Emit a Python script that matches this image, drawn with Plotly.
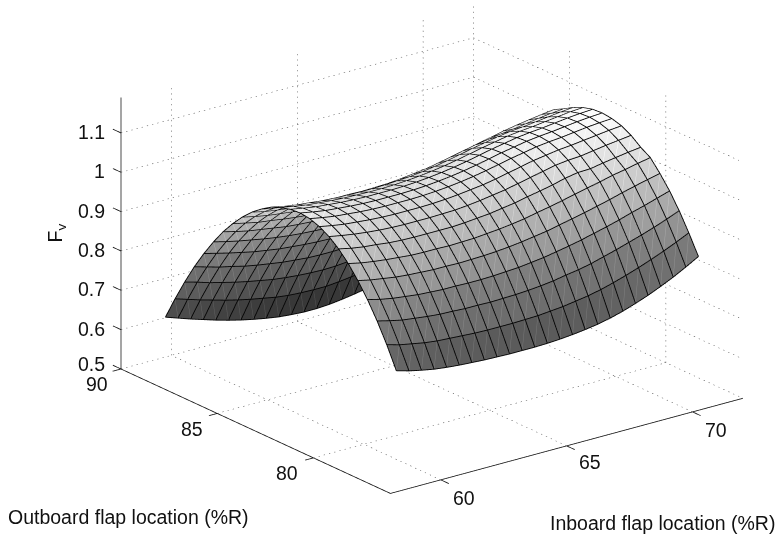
import plotly.graph_objects as go

inboard = [59 + 0.5 * k for k in range(25)]
outboard = [77 + 0.5 * k for k in range(25)]
z_ticks = [0.5, 0.6, 0.7, 0.8, 0.9, 1.0, 1.1]
z_tick_labels = ["0.5", "0.6", "0.7", "0.8", "0.9", "1", "1.1"]
in_ticks = [60, 65, 70]
out_ticks = [80, 85, 90]
in_lim = [58, 72]
out_lim = [76, 90]
z_lim = [0.5, 1.19]

# rows: outboard 77..89, columns: inboard 59..71
Fv = [
 [.772,.763,.756,.750,.746,.743,.741,.739,.738,.737,.737,.737,.738,.740,.743,.747,.752,.759,.768,.779,.791,.805,.820,.837,.855],
 [.827,.818,.812,.806,.802,.800,.798,.796,.795,.795,.795,.796,.797,.800,.803,.808,.813,.820,.829,.839,.850,.862,.875,.889,.904],
 [.876,.868,.861,.857,.853,.850,.849,.847,.847,.846,.847,.848,.850,.853,.857,.863,.868,.875,.884,.893,.903,.913,.924,.936,.949],
 [.919,.911,.905,.901,.897,.895,.893,.893,.892,.892,.893,.895,.897,.901,.905,.911,.917,.924,.932,.940,.949,.959,.968,.978,.988],
 [.956,.949,.944,.939,.936,.934,.932,.932,.931,.932,.933,.935,.938,.942,.947,.952,.959,.966,.973,.981,.989,.998,1.006,1.014,1.021],
 [.988,.981,.976,.972,.969,.966,.965,.965,.964,.965,.966,.969,.972,.976,.981,.988,.994,1.001,1.009,1.016,1.023,1.031,1.037,1.044,1.050],
 [1.014,1.007,1.002,.999,.995,.993,.992,.992,.992,.992,.994,.997,1.000,1.005,1.010,1.017,1.023,1.030,1.038,1.044,1.045,1.051,1.056,1.061,1.065],
 [1.034,1.028,1.023,1.019,1.016,1.014,1.013,1.013,1.013,1.014,1.015,1.018,1.022,1.027,1.032,1.039,1.046,1.053,1.060,1.064,1.066,1.071,1.076,1.080,1.084],
 [1.048,1.042,1.037,1.034,1.031,1.029,1.028,1.028,1.028,1.029,1.031,1.034,1.038,1.042,1.048,1.055,1.062,1.069,1.074,1.079,1.082,1.086,1.090,1.094,1.097],
 [1.057,1.051,1.046,1.043,1.040,1.038,1.037,1.037,1.037,1.038,1.040,1.043,1.047,1.052,1.058,1.065,1.072,1.078,1.084,1.088,1.091,1.095,1.099,1.102,1.104],
 [1.060,1.054,1.049,1.046,1.043,1.041,1.040,1.040,1.040,1.041,1.043,1.046,1.050,1.055,1.061,1.068,1.075,1.081,1.087,1.091,1.094,1.098,1.102,1.105,1.107],
 [1.058,1.052,1.047,1.044,1.041,1.039,1.038,1.038,1.038,1.039,1.041,1.044,1.048,1.053,1.059,1.066,1.073,1.079,1.085,1.089,1.092,1.096,1.100,1.103,1.105],
 [1.051,1.045,1.040,1.037,1.034,1.032,1.031,1.030,1.030,1.031,1.033,1.036,1.040,1.045,1.051,1.058,1.065,1.071,1.077,1.081,1.084,1.088,1.092,1.096,1.098],
 [1.041,1.034,1.029,1.026,1.022,1.020,1.019,1.018,1.018,1.019,1.021,1.023,1.027,1.032,1.038,1.045,1.052,1.058,1.064,1.069,1.072,1.076,1.080,1.084,1.087],
 [1.025,1.019,1.014,1.010,1.006,1.004,1.002,1.002,1.001,1.002,1.003,1.006,1.010,1.014,1.020,1.027,1.034,1.041,1.046,1.051,1.055,1.060,1.065,1.069,1.072],
 [1.006,.999,.994,.990,.986,.983,.981,.980,.979,.980,.981,.983,.987,.991,.997,1.004,1.011,1.018,1.025,1.032,1.039,1.045,1.050,1.055,1.059],
 [.982,.975,.969,.965,.961,.957,.955,.954,.953,.953,.954,.956,.959,.964,.969,.976,.983,.990,.997,1.004,1.011,1.018,1.024,1.029,1.034],
 [.954,.947,.940,.936,.931,.927,.924,.923,.921,.921,.921,.923,.926,.930,.936,.942,.949,.956,.964,.971,.979,.986,.993,.999,1.005],
 [.922,.914,.907,.902,.897,.892,.889,.887,.885,.884,.884,.886,.888,.892,.898,.904,.911,.918,.926,.933,.941,.949,.957,.964,.971],
 [.885,.877,.870,.864,.858,.853,.849,.846,.844,.842,.842,.843,.845,.849,.854,.861,.867,.875,.883,.890,.899,.908,.916,.925,.933],
 [.844,.836,.828,.821,.814,.809,.804,.801,.798,.796,.795,.795,.797,.801,.806,.812,.818,.826,.834,.842,.852,.861,.871,.880,.891],
 [.799,.790,.781,.774,.766,.760,.755,.750,.747,.744,.743,.743,.744,.748,.752,.758,.764,.772,.781,.789,.799,.810,.820,.832,.843],
 [.749,.740,.730,.722,.714,.707,.701,.695,.691,.688,.686,.685,.686,.689,.694,.699,.705,.713,.722,.731,.742,.753,.765,.778,.792],
 [.695,.685,.675,.666,.657,.649,.642,.636,.630,.626,.624,.623,.623,.626,.630,.635,.641,.649,.659,.668,.679,.692,.706,.720,.736],
 [.637,.626,.615,.605,.595,.586,.578,.571,.565,.560,.557,.555,.555,.557,.561,.566,.572,.580,.590,.600,.612,.626,.641,.657,.675],
]

FONT = "Liberation Sans"
FS = 19.5
W, H = 777, 542
ELEV_DIR = (-0.568, -0.743, 0.353)
R = 3.0
SCALE = 1.637
CENTER = (-0.1456, 0.0734, -0.0797)
# nudge toward the eye, in data units, so wires sit in front of the facets on both sides of the sheet
NUDGE = (-0.0194, -0.0254, 0.0009)

n_in, n_out = len(inboard), len(outboard)
vx, vy, vz = [], [], []
for r in range(n_out):
    for c in range(n_in):
        vx.append(inboard[c]); vy.append(outboard[r]); vz.append(Fv[r][c])

def gray(z):
    if z <= 0.855:
        return max(0, 92 + 313 * (z - 0.74))
    return min(255, 130 + 490 * (z - 0.855))

ti, tj, tk, colors = [], [], [], []
sx, sy, sz, sc = [], [], [], []
for r in range(n_out - 1):
    for c in range(n_in - 1):
        a = r * n_in + c
        b = a + 1
        d = a + n_in
        e = d + 1
        g = gray(Fv[r][c])
        col = f"rgb({g:.0f},{g:.0f},{g:.0f})"
        ti += [a, a]; tj += [b, e]; tk += [e, d]
        colors += [col, col]
        sx += [vx[a] + NUDGE[0] / 2, vx[e] + NUDGE[0] / 2, None]
        sy += [vy[a] + NUDGE[1] / 2, vy[e] + NUDGE[1] / 2, None]
        sz += [vz[a] + NUDGE[2] / 2, vz[e] + NUDGE[2] / 2, None]
        light = min(255, g + 28)
        sc += [light, light, light]

traces = [go.Mesh3d(x=vx, y=vy, z=vz, i=ti, j=tj, k=tk, facecolor=colors, flatshading=True,
                    lighting=dict(ambient=1, diffuse=0, specular=0, fresnel=0, roughness=1),
                    hoverinfo="skip", showscale=False)]

traces.append(go.Scatter3d(x=sx, y=sy, z=sz, mode="lines", hoverinfo="skip", showlegend=False,
                           line=dict(width=1, color=sc, colorscale=[[0, "rgb(0,0,0)"], [1, "rgb(255,255,255)"]], cmin=0, cmax=255)))

mx, my, mz = [], [], []
for r in range(n_out):
    mx += [v + NUDGE[0] for v in inboard] + [None]
    my += [outboard[r] + NUDGE[1]] * n_in + [None]
    mz += [v + NUDGE[2] for v in Fv[r]] + [None]
for c in range(n_in):
    mx += [inboard[c] + NUDGE[0]] * n_out + [None]
    my += [v + NUDGE[1] for v in outboard] + [None]
    mz += [Fv[r][c] + NUDGE[2] for r in range(n_out)] + [None]
traces.append(go.Scatter3d(x=mx, y=my, z=mz, mode="lines", hoverinfo="skip", showlegend=False,
                           line=dict(color="rgb(5,5,5)", width=1.8)))

def seg(p, q, X, Y, Z):
    X += [p[0], q[0], None]; Y += [p[1], q[1], None]; Z += [p[2], q[2], None]

# dotted grid: short strokes along each grid line
gx, gy, gz = [], [], []
def dotted(p, q, pixels):
    n = max(1, int(pixels / 5.3))
    for k in range(n + 1):
        f0 = k / n
        f1 = min(1.0, f0 + 1.3 / pixels)
        seg(tuple(p[i] + (q[i] - p[i]) * f0 for i in range(3)), tuple(p[i] + (q[i] - p[i]) * f1 for i in range(3)), gx, gy, gz)
zb, zt = z_lim
LEN_IN, LEN_OUT, LEN_Z = 365, 296, 271
for t in in_ticks:
    dotted((t, out_lim[0], zb), (t, out_lim[1], zb), LEN_OUT)
    dotted((t, out_lim[1], zb), (t, out_lim[1], zt), LEN_Z)
for t in out_ticks:
    dotted((in_lim[0], t, zb), (in_lim[1], t, zb), LEN_IN)
    dotted((in_lim[1], t, zb), (in_lim[1], t, zt), LEN_Z)
for t in z_ticks:
    dotted((in_lim[0], out_lim[1], t), (in_lim[1], out_lim[1], t), LEN_IN)
    dotted((in_lim[1], out_lim[1], t), (in_lim[1], out_lim[0], t), LEN_OUT)
traces.append(go.Scatter3d(x=gx, y=gy, z=gz, mode="lines", hoverinfo="skip", showlegend=False,
                           line=dict(color="#444444", width=1)))

# solid axes and ticks
ax, ay, az = [], [], []
seg((in_lim[0], out_lim[1], zb), (in_lim[0], out_lim[1], zt), ax, ay, az)
seg((in_lim[0], out_lim[1], zb), (in_lim[0], out_lim[0], zb), ax, ay, az)
seg((in_lim[0], out_lim[0], zb), (in_lim[1], out_lim[0], zb), ax, ay, az)
for t in z_ticks:
    seg((in_lim[0], out_lim[1], t), (in_lim[0], out_lim[1] + 0.42, t), ax, ay, az)
for t in out_ticks:
    seg((in_lim[0], t, zb), (in_lim[0] - 0.33, t, zb), ax, ay, az)
for t in in_ticks:
    seg((t, out_lim[0], zb), (t, out_lim[0] - 0.42, zb), ax, ay, az)
traces.append(go.Scatter3d(x=ax, y=ay, z=az, mode="lines", hoverinfo="skip", showlegend=False,
                           line=dict(color="#111111", width=1.6)))

scene_ann = []
def lab(x, y, z, text, xs, ys, anchor="center"):
    scene_ann.append(dict(x=x, y=y, z=z, text=text, showarrow=False, xshift=xs, yshift=ys, xanchor=anchor,
                          yanchor="middle", font=dict(family=FONT, size=FS, color="#111111")))
for t, s in zip(z_ticks, z_tick_labels):
    lab(in_lim[0], out_lim[1], t, s, -13.5, 5 if t == 0.5 else 1, "right")
for t, (xs, ys) in zip(out_ticks, [(-26, -15), (-25.5, -16), (-24, -15)]):
    lab(in_lim[0], t, zb, str(t), xs, ys)
for t, (xs, ys) in zip(in_ticks, [(23, -18), (23, -16), (23, -18)]):
    lab(t, out_lim[0], zb, str(t), xs, ys)

def px(x):
    return x / W
def py(y):
    return 1 - y / H

hidden = dict(visible=False, showgrid=False, zeroline=False, showline=False, showticklabels=False,
              showbackground=False, showspikes=False, title="")
fig = go.Figure(traces)
fig.update_layout(
    width=W, height=H, margin=dict(l=0, r=0, t=0, b=0), paper_bgcolor="white", showlegend=False,
    scene=dict(
        domain=dict(x=[0, 1], y=[0, 1]),
        xaxis=dict(hidden, range=[57, 73]), yaxis=dict(hidden, range=[75, 91]), zaxis=dict(hidden, range=[0.445, 1.245]),
        aspectmode="manual", aspectratio=dict(x=16 / 14 * SCALE, y=16 / 14 * SCALE, z=0.7583 * SCALE),
        camera=dict(projection=dict(type="orthographic"),
                    up=dict(x=0, y=0, z=1),
                    center=dict(x=CENTER[0], y=CENTER[1], z=CENTER[2]),
                    eye=dict(x=CENTER[0] + R * ELEV_DIR[0], y=CENTER[1] + R * ELEV_DIR[1], z=CENTER[2] + R * ELEV_DIR[2])),
        annotations=scene_ann,
    ),
    annotations=[
        dict(xref="paper", yref="paper", x=px(6), y=py(517), xanchor="left", yanchor="middle", showarrow=False,
             text="Outboard flap location (%R)", font=dict(family=FONT, size=FS, color="#111111")),
        dict(xref="paper", yref="paper", x=px(548), y=py(523), xanchor="left", yanchor="middle", showarrow=False,
             text="Inboard flap location (%R)", font=dict(family=FONT, size=FS, color="#111111")),
        dict(xref="paper", yref="paper", x=px(55.5), y=py(233), xanchor="center", yanchor="middle", showarrow=False,
             textangle=-90, text="F<sub>v</sub>", font=dict(family=FONT, size=FS, color="#111111")),
    ],
)
fig.write_html("out.html", config=dict(displayModeBar=False), post_script="document.body.style.margin='0';")
